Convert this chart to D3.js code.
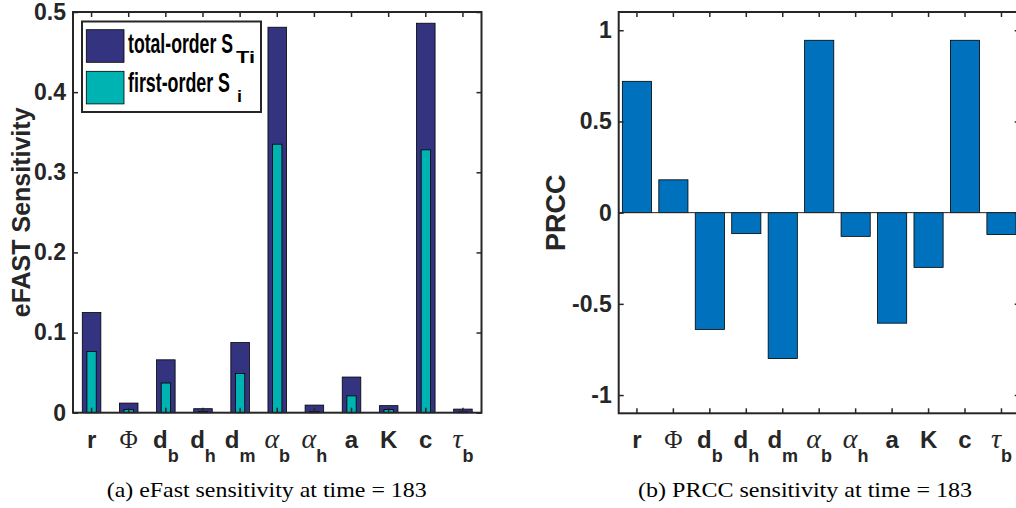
<!DOCTYPE html>
<html><head><meta charset="utf-8">
<script src="https://cdn.jsdelivr.net/npm/d3@7"></script>
<style>body{margin:0;background:#fff}</style>
</head><body>
<svg id="c" width="1016" height="508" xmlns="http://www.w3.org/2000/svg"></svg>
<script>
// ---- data ----
const categories = ["r","Φ","d_b","d_h","d_m","α_b","α_h","a","K","c","τ_b"];
const labelMain = ["r","Φ","d","d","d","α","α","a","K","c","τ"];
const labelSub  = ["","","b","h","m","b","h","","","","b"];
const totalOrder = [0.125,0.012,0.066,0.005,0.0875,0.481,0.0095,0.0445,0.0088,0.486,0.0045];
const firstOrder = [0.0765,0.004,0.037,0.0015,0.049,0.335,0.0015,0.021,0.004,0.328,0.001];
const prcc = [0.72,0.18,-0.64,-0.115,-0.80,0.945,-0.13,-0.606,-0.30,0.945,-0.12];
const eTicks = [0,0.1,0.2,0.3,0.4,0.5];
const pTicks = [-1,-0.5,0,0.5,1];
const legendMain = ["total-order S","first-order S"];
const legendSub = ["Ti","i"];
const yTitles = ["eFAST Sensitivity","PRCC"];
const captions = ["(a) eFast sensitivity at time = 183","(b) PRCC sensitivity at time = 183"];

const C_TOTAL = "#33337f", C_FIRST = "#00b3b3", C_PRCC = "#0072bd", AX = "#262626";
const SANS = "'Liberation Sans', Arial, Helvetica, sans-serif";
const SERIF = "'Liberation Serif', 'Times New Roman', serif";

const svg = d3.select("#c");
const keys = categories.map((c,i)=>i);

// text squeezed to a target width by a transform, so its box stays true
function fitText(parent, str, x, y, width, attrs){
  const g = parent.append("g");
  const t = g.append("text").attr("x",0).attr("y",0).text(str);
  Object.entries(attrs).forEach(([k,v])=>t.attr(k,v));
  const w = t.node().getComputedTextLength();
  const sx = width / w;
  g.attr("transform",`translate(${x},${y}) scale(${sx},1)`);
  return t;
}

function frame(g, x, y, ticks, left, right, top, bottom, fs, lblPad){
  g.append("g").attr("transform",`translate(${left},0)`)
    .call(d3.axisLeft(y).tickValues(ticks).tickSize(-5).tickPadding(lblPad).tickFormat(d=>String(d)))
    .call(a=>{a.select(".domain").remove();
      a.selectAll("line").attr("stroke",AX).attr("stroke-width",1.5);
      a.selectAll("text").attr("font-family",SANS).attr("font-weight","bold").attr("font-size",fs).attr("fill",AX);});
  g.append("g").attr("transform",`translate(${right},0)`)
    .call(d3.axisRight(y).tickValues(ticks).tickSize(-5).tickFormat(""))
    .call(a=>{a.select(".domain").remove(); a.selectAll("line").attr("stroke",AX).attr("stroke-width",1.5);});
  g.append("g").attr("transform",`translate(0,${top})`)
    .call(d3.axisTop(x).tickSize(-5).tickFormat(""))
    .call(a=>{a.select(".domain").remove(); a.selectAll("line").attr("stroke",AX).attr("stroke-width",1.5);});
  g.append("g").attr("transform",`translate(0,${bottom})`)
    .call(d3.axisBottom(x).tickSize(-5).tickFormat(""))
    .call(a=>{a.select(".domain").remove(); a.selectAll("line").attr("stroke",AX).attr("stroke-width",1.5);});
  g.append("rect").attr("x",left).attr("y",top).attr("width",right-left).attr("height",bottom-top)
    .attr("fill","none").attr("stroke",AX).attr("stroke-width",2);
  keys.forEach(i=>{
    const cx = x(i)+x.bandwidth()/2;
    const t = g.append("text").attr("x",cx).attr("y",448).attr("text-anchor","middle").attr("fill",AX);
    const m = labelMain[i];
    const greek = "Φατ".includes(m);
    const ts = t.append("tspan").text(m);
    if(greek){ ts.attr("font-family",SERIF).attr("font-size",m==="Φ"?25:28).attr("font-style", m==="Φ"?"normal":"italic"); }
    else { ts.attr("font-family",SANS).attr("font-weight","bold").attr("font-size",24); }
    if(labelSub[i]) t.append("tspan").attr("dy",14).attr("font-family",SANS).attr("font-weight","bold").attr("font-size",18).text(labelSub[i]);
  });
}

// ---- Panel (a) ----
{
  const L=73, R=481.5, T=12, B=412.7;
  const g = svg.append("g");
  const x = d3.scaleBand().domain(keys).range([L,R]).padding(0);
  const y = d3.scaleLinear().domain([0,0.5]).range([B,T]);
  const bw = x.bandwidth();
  g.selectAll(".tot").data(totalOrder).join("rect")
    .attr("x",(d,i)=>x(i)+bw/2-bw*0.25).attr("width",bw*0.5)
    .attr("y",d=>y(d)).attr("height",d=>y(0)-y(d))
    .attr("fill",C_TOTAL).attr("stroke","#000").attr("stroke-width",0.8);
  g.selectAll(".fst").data(firstOrder).join("rect")
    .attr("x",(d,i)=>x(i)+bw/2-bw*0.125).attr("width",bw*0.25)
    .attr("y",d=>y(d)).attr("height",d=>y(0)-y(d))
    .attr("fill",C_FIRST).attr("stroke","#000").attr("stroke-width",0.8);
  frame(g,x,y,eTicks,L,R,T,B,23,7);
  g.append("text").attr("transform",`translate(30,${(T+B)/2}) rotate(-90)`).attr("text-anchor","middle")
    .attr("font-family",SANS).attr("font-weight","bold").attr("font-size",25).attr("fill",AX).text(yTitles[0]);
  const lg = g.append("g");
  lg.append("rect").attr("x",82).attr("y",21.5).attr("width",179).attr("height",90.5)
    .attr("fill","#fff").attr("stroke",AX).attr("stroke-width",2);
  const cols=[C_TOTAL,C_FIRST], sy=[29.7,71.3], by=[53,92];
  [0,1].forEach(k=>{
    lg.append("rect").attr("x",86.3).attr("y",sy[k]).attr("width",37.7).attr("height",32.6)
      .attr("fill",cols[k]).attr("stroke","#000").attr("stroke-width",0.8);
    fitText(lg, legendMain[k], 128, by[k], k?102:105,
      {"font-family":SANS,"font-weight":"bold","font-size":27,"fill":"#000"});
    fitText(lg, legendSub[k], k?237:236, by[k]+10, k?5:19,
      {"font-family":SANS,"font-weight":"bold","font-size":17,"fill":"#000"});
  });
  g.append("text").attr("x",266.7).attr("y",497).attr("text-anchor","middle").attr("font-family",SERIF)
    .attr("font-size",21).attr("fill","#000").attr("textLength",320).attr("lengthAdjust","spacingAndGlyphs").text(captions[0]);
}

// ---- Panel (b) ----
{
  const L=618.7, R=1019.7, T=12, B=413.3;
  const g = svg.append("g");
  const x = d3.scaleBand().domain(keys).range([L,R]).padding(0);
  const y = d3.scaleLinear().domain([-1.1,1.1]).range([B,T]);
  const bw = x.bandwidth();
  g.selectAll(".p").data(prcc).join("rect")
    .attr("x",(d,i)=>x(i)+bw/2-bw*0.4).attr("width",bw*0.8)
    .attr("y",d=>y(Math.max(0,d))).attr("height",d=>Math.abs(y(d)-y(0)))
    .attr("fill",C_PRCC).attr("stroke","#000").attr("stroke-width",0.8);
  g.append("line").attr("x1",L).attr("x2",R).attr("y1",y(0)).attr("y2",y(0)).attr("stroke",AX).attr("stroke-width",1);
  frame(g,x,y,pTicks,L,R,T,B,23,7);
  g.append("text").attr("transform",`translate(565,${(T+B)/2}) rotate(-90)`).attr("text-anchor","middle")
    .attr("font-family",SANS).attr("font-weight","bold").attr("font-size",27).attr("fill",AX).text(yTitles[1]);
  g.append("text").attr("x",805).attr("y",497).attr("text-anchor","middle").attr("font-family",SERIF)
    .attr("font-size",21).attr("fill","#000").attr("textLength",334).attr("lengthAdjust","spacingAndGlyphs").text(captions[1]);
}
</script>
</body></html>
